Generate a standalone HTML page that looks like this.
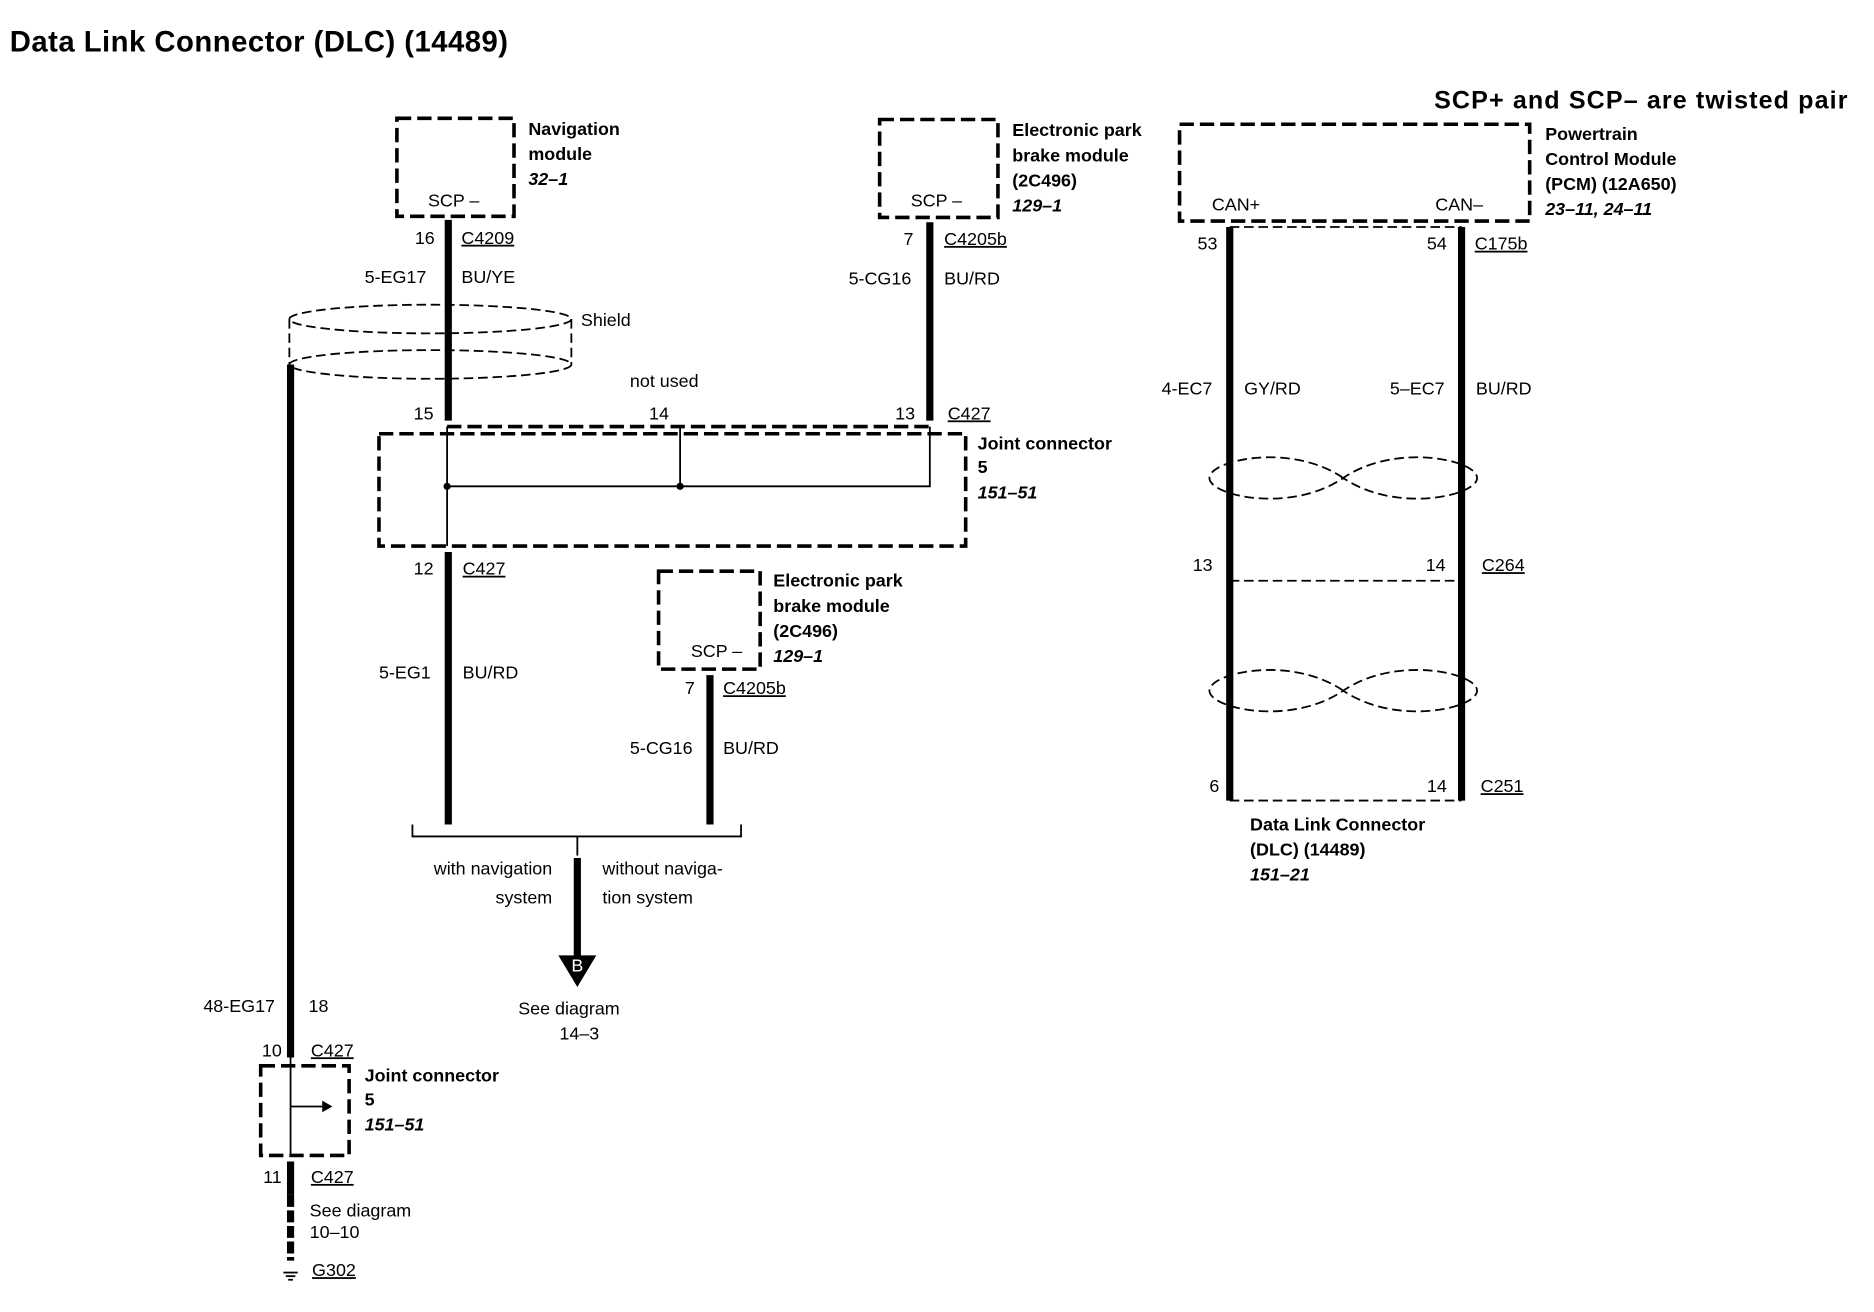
<!DOCTYPE html>
<html><head><meta charset="utf-8"><style>
html,body{margin:0;padding:0;background:#fff;}
svg{display:block}
text{font-family:"Liberation Sans",sans-serif;font-size:15px;fill:#000}
.b{font-weight:bold}
.i{font-style:italic;font-weight:bold}
.u{text-decoration:underline}
</style></head><body>
<svg width="1874" height="1312" viewBox="0 0 1568 1098" xmlns="http://www.w3.org/2000/svg">
<g fill="none" stroke="#000">
<g stroke-width="3" stroke-dasharray="12,5">
<rect x="332" y="99" width="98" height="82"/>
<rect x="736" y="100" width="99" height="82"/>
<rect x="317" y="363" width="491" height="94"/>
<rect x="551" y="478" width="85" height="82"/>
<rect x="218" y="892" width="74" height="75"/>
<rect x="987" y="104" width="293" height="81"/>
<line x1="374" y1="357" x2="778" y2="357"/>
</g>
<g stroke-width="6">
<line x1="375" y1="184" x2="375" y2="352"/>
<line x1="778" y1="186" x2="778" y2="352"/>
<line x1="375" y1="462" x2="375" y2="690"/>
<line x1="594" y1="565" x2="594" y2="690"/>
<line x1="483" y1="718" x2="483" y2="800"/>
<line x1="243" y1="305" x2="243" y2="885"/>
<line x1="243" y1="972" x2="243" y2="1000"/>
<line x1="243" y1="1000" x2="243" y2="1055" stroke-dasharray="10,3"/>
<line x1="1029" y1="190" x2="1029" y2="670"/>
<line x1="1223" y1="190" x2="1223" y2="670"/>
</g>
<g stroke-width="1.5">
<polyline points="374,357 374,457"/>
<polyline points="569,357 569,407"/>
<polyline points="778,357 778,407 374,407"/>
<line x1="243" y1="885" x2="243" y2="967"/>
<line x1="243" y1="926" x2="270" y2="926"/>
<polyline points="345,690 345,700 620,700 620,690"/>
<line x1="483" y1="700" x2="483" y2="716"/>
<line x1="237" y1="1065" x2="249" y2="1065"/>
<line x1="239" y1="1068" x2="247" y2="1068"/>
<line x1="241" y1="1071" x2="245" y2="1071"/>
</g>
<circle cx="374" cy="407" r="2.5" fill="#000"/>
<circle cx="569" cy="407" r="2.5" fill="#000"/>
<polygon points="270,922 277,926 270,930" fill="#000"/>
<g stroke-width="1.5" stroke-dasharray="8,4">
<ellipse cx="360" cy="267" rx="118" ry="12"/>
<ellipse cx="360" cy="305" rx="118" ry="12"/>
<line x1="242" y1="267" x2="242" y2="305"/>
<line x1="478" y1="267" x2="478" y2="305"/>
<line x1="1029" y1="486" x2="1223" y2="486"/>
<line x1="1029" y1="670" x2="1223" y2="670"/>
<line x1="1029" y1="190" x2="1223" y2="190"/>
</g>
<g stroke-width="1.5" stroke-dasharray="8,4">
<path d="M1124,400 C1080,370 1012,385 1012,400 C1012,415 1080,430 1124,400 C1168,370 1236,385 1236,400 C1236,415 1168,430 1124,400Z"/>
<path d="M1124,578 C1080,548 1012,563 1012,578 C1012,593 1080,608 1124,578 C1168,548 1236,563 1236,578 C1236,593 1168,608 1124,578Z"/>
</g>
<polygon points="468,800 498,800 483,825" fill="#000"/>
</g>
<text x="478" y="813" style="fill:#fff" font-size="11">B</text>

<text x="8" y="43" class="b" style="font-size:24.5px" textLength="417">Data Link Connector (DLC) (14489)</text>
<text x="1200" y="91" class="b" style="font-size:21px" textLength="346">SCP+ and SCP– are twisted pair</text>

<text x="442" y="113" class="b">Navigation</text>
<text x="442" y="134" class="b">module</text>
<text x="442" y="155" class="i">32–1</text>
<text x="358" y="173">SCP –</text>
<text x="347" y="204">16</text>
<text x="386" y="204" class="u">C4209</text>
<text x="305" y="237">5-EG17</text>
<text x="386" y="237">BU/YE</text>
<text x="486" y="273">Shield</text>

<text x="847" y="114" class="b">Electronic park</text>
<text x="847" y="135" class="b">brake module</text>
<text x="847" y="156" class="b">(2C496)</text>
<text x="847" y="177" class="i">129–1</text>
<text x="762" y="173">SCP –</text>
<text x="756" y="205">7</text>
<text x="790" y="205" class="u">C4205b</text>
<text x="710" y="238">5-CG16</text>
<text x="790" y="238">BU/RD</text>

<text x="527" y="324">not used</text>
<text x="346" y="351">15</text>
<text x="543" y="351">14</text>
<text x="749" y="351">13</text>
<text x="793" y="351" class="u">C427</text>
<text x="818" y="376" class="b">Joint connector</text>
<text x="818" y="396" class="b">5</text>
<text x="818" y="417" class="i">151–51</text>

<text x="346" y="481">12</text>
<text x="387" y="481" class="u">C427</text>
<text x="317" y="568">5-EG1</text>
<text x="387" y="568">BU/RD</text>

<text x="647" y="491" class="b">Electronic park</text>
<text x="647" y="512" class="b">brake module</text>
<text x="647" y="533" class="b">(2C496)</text>
<text x="647" y="554" class="i">129–1</text>
<text x="578" y="550">SCP –</text>
<text x="573" y="581">7</text>
<text x="605" y="581" class="u">C4205b</text>
<text x="527" y="631">5-CG16</text>
<text x="605" y="631">BU/RD</text>

<text x="462" y="732" text-anchor="end">with navigation</text>
<text x="462" y="756" text-anchor="end">system</text>
<text x="504" y="732">without naviga-</text>
<text x="504" y="756">tion system</text>
<text x="476" y="849" text-anchor="middle">See diagram</text>
<text x="468" y="870">14–3</text>

<text x="170" y="847">48-EG17</text>
<text x="258" y="847">18</text>
<text x="219" y="884">10</text>
<text x="260" y="884" class="u">C427</text>
<text x="305" y="905" class="b">Joint connector</text>
<text x="305" y="925" class="b">5</text>
<text x="305" y="946" class="i">151–51</text>
<text x="220" y="990">11</text>
<text x="260" y="990" class="u">C427</text>
<text x="259" y="1018">See diagram</text>
<text x="259" y="1036">10–10</text>
<text x="261" y="1068" class="u">G302</text>

<text x="1293" y="117" class="b">Powertrain</text>
<text x="1293" y="138" class="b">Control Module</text>
<text x="1293" y="159" class="b">(PCM) (12A650)</text>
<text x="1293" y="180" class="i">23–11, 24–11</text>
<text x="1014" y="176">CAN+</text>
<text x="1201" y="176">CAN–</text>
<text x="1002" y="209">53</text>
<text x="1194" y="209">54</text>
<text x="1234" y="209" class="u">C175b</text>
<text x="972" y="330">4-EC7</text>
<text x="1041" y="330">GY/RD</text>
<text x="1163" y="330">5–EC7</text>
<text x="1235" y="330">BU/RD</text>
<text x="998" y="478">13</text>
<text x="1193" y="478">14</text>
<text x="1240" y="478" class="u">C264</text>
<text x="1012" y="663">6</text>
<text x="1194" y="663">14</text>
<text x="1239" y="663" class="u">C251</text>
<text x="1046" y="695" class="b">Data Link Connector</text>
<text x="1046" y="716" class="b">(DLC) (14489)</text>
<text x="1046" y="737" class="i">151–21</text>
</svg>
</body></html>
